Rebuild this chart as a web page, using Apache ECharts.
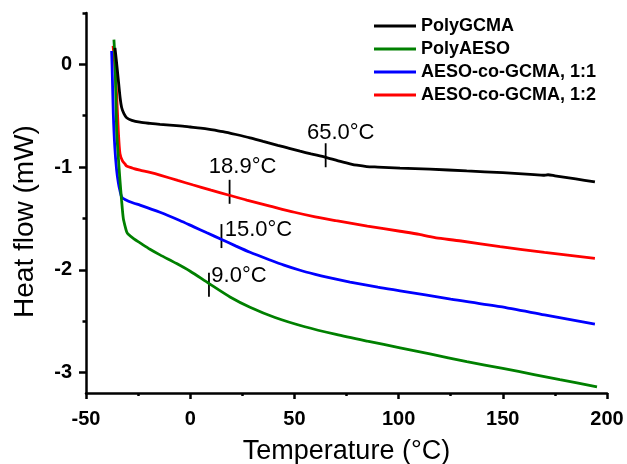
<!DOCTYPE html>
<html>
<head>
<meta charset="utf-8">
<script src="https://cdn.jsdelivr.net/npm/echarts@6/dist/echarts.min.js"></script>
<style>html,body{margin:0;padding:0;background:#fff}#c{width:627px;height:464px}</style>
</head>
<body>
<div id="c"></div>
<script>
const seriesNames = ['PolyGCMA', 'PolyAESO', 'AESO-co-GCMA, 1:1', 'AESO-co-GCMA, 1:2'];
const seriesColors = ['#000000', '#008000', '#0000ff', '#ff0000'];

const polyGCMA = [
  [-36.1,0.16],[-35.5,0.05],[-34.5,-0.15],[-33.6,-0.33],[-32.9,-0.42],[-31.8,-0.48],[-30.5,-0.52],
  [-28,-0.545],[-24.1,-0.563],[-19.3,-0.575],[-14.5,-0.585],[-5,-0.6],[0,-0.61],[5,-0.62],
  [10,-0.635],[15.7,-0.655],[22,-0.683],[28.7,-0.715],[35,-0.75],[42,-0.788],[48,-0.82],[52.7,-0.845],
  [58,-0.872],[65,-0.905],[71,-0.94],[76.7,-0.968],[80,-0.982],[84.7,-0.995],[90,-1.0],[100.7,-1.01],
  [115,-1.02],[132.7,-1.038],[150,-1.055],[165,-1.073],[169.4,-1.08],[171.7,-1.075],[175,-1.085],
  [185,-1.115],[194.2,-1.145]
];
const polyAESO = [
  [-36.6,0.24],[-36.0,0.0],[-35.3,-0.645],[-34.5,-0.9],[-33.7,-1.13],[-32.9,-1.33],[-32.1,-1.5],
  [-31.2,-1.58],[-30.5,-1.63],[-29.7,-1.655],[-27,-1.7],[-24.1,-1.738],[-19.3,-1.8],
  [-14.5,-1.855],[-6.5,-1.94],[0,-2.015],[8.7,-2.13],[19.1,-2.265],[28.7,-2.365],[40.7,-2.465],
  [55,-2.555],[70,-2.63],[85,-2.695],[100.7,-2.76],[115,-2.82],[132.7,-2.895],[150,-2.96],
  [165,-3.02],[177.4,-3.07],[195.2,-3.14]
];
const aesoGcma11 = [
  [-37.7,0.13],[-37.5,0.0],[-36.9,-0.48],[-36.2,-0.8],[-35.3,-1.03],[-34.5,-1.15],[-33.7,-1.23],
  [-32.9,-1.29],[-31.3,-1.315],[-27.3,-1.35],[-24.1,-1.37],[-14.5,-1.44],[-5,-1.52],[1.5,-1.58],
  [8,-1.64],[15.1,-1.705],[22,-1.77],[28.7,-1.83],[38.3,-1.905],[45,-1.955],[52.7,-2.005],[60,-2.045],
  [65,-2.07],[76.7,-2.12],[90,-2.17],[100.7,-2.205],[125,-2.285],[148.7,-2.36],[170,-2.44],[194.2,-2.53]
];
const aesoGcma12 = [
  [-37.0,0.18],[-36.2,0.0],[-35.3,-0.3],[-34.5,-0.645],[-33.7,-0.87],[-32.5,-0.94],[-31.3,-0.97],
  [-30.5,-0.99],[-27,-1.015],[-24.1,-1.03],[-19.3,-1.052],[-14.5,-1.078],[-6,-1.13],[1.5,-1.175],
  [10,-1.225],[18.3,-1.272],[27.1,-1.322],[38.3,-1.38],[50,-1.44],[60,-1.485],[70,-1.522],
  [85,-1.575],[100.7,-1.625],[110,-1.655],[115,-1.678],[118,-1.69],[130,-1.72],[148.7,-1.775],[170,-1.83],
  [194.2,-1.89]
];
const seriesData = [polyGCMA, polyAESO, aesoGcma11, aesoGcma12];

// Glass transition markers
const tgSeries = [0, 3, 2, 1];
const tgTemp = [65.0, 18.9, 15.0, 9.0];
const tgFlow = [-0.885, -1.241, -1.672, -2.146];
const tgLabels = ['65.0°C', '18.9°C', '15.0°C', '9.0°C'];
const tgLabelOffset = [[15, -22], [13, -25], [37, -6], [30, -9]];

const xTicks = [-50, 0, 50, 100, 150, 200];
const yTicks = [-3, -2, -1, 0];
const yMinorTicks = [-2.5, -1.5, -0.5, 0.5];

const FONT = '"Liberation Sans", Arial, sans-serif';

const series = seriesNames.map((name, i) => {
  const marks = [];
  tgSeries.forEach((s, k) => {
    if (s === i) {
      marks.push({
        name: tgLabels[k],
        coord: [tgTemp[k], tgFlow[k]],
        label: { offset: tgLabelOffset[k] }
      });
    }
  });
  return {
    name: name,
    type: 'line',
    data: seriesData[i],
    showSymbol: false,
    symbol: 'none',
    smooth: 0.25,
    lineStyle: { color: seriesColors[i], width: 2.8 },
    itemStyle: { color: seriesColors[i] },
    z: 10 - i,
    markPoint: marks.length ? {
      symbol: 'rect',
      symbolSize: [1.8, 24],
      itemStyle: { color: '#000' },
      label: {
        show: true, position: 'inside', formatter: '{b}',
        color: '#000', fontFamily: FONT, fontSize: 22, align: 'center', verticalAlign: 'middle'
      },
      data: marks
    } : undefined
  };
});

const chart = echarts.init(document.getElementById('c'), null, { renderer: 'canvas' });
chart.setOption({
  animation: false,
  backgroundColor: '#fff',
  grid: { left: 86, right: 20, top: 13, bottom: 71, containLabel: false, outerBoundsMode: 'none' },
  legend: {
    orient: 'vertical', left: 374, top: 17, padding: 0,
    itemWidth: 42, itemHeight: 3, itemGap: 5, icon: 'rect',
    textStyle: { fontFamily: FONT, fontWeight: 'bold', fontSize: 18, color: '#000' },
    data: seriesNames.map((n, i) => ({ name: n, itemStyle: { color: seriesColors[i] } }))
  },
  graphic: [{
    type: 'text', x: 39, y: 221.5, rotation: Math.PI / 2,
    style: { text: 'Heat flow (mW)', font: '28px "Liberation Sans", Arial, sans-serif',
      fill: '#000', align: 'center', verticalAlign: 'bottom' }
  }],
  xAxis: {
    type: 'value', min: -50, max: 200, interval: 50,
    name: 'Temperature (°C)', nameLocation: 'middle', nameGap: 45,
    nameTextStyle: { fontFamily: FONT, fontSize: 27, color: '#000' },
    axisLine: { show: true, onZero: false, lineStyle: { color: '#000', width: 2.5 } },
    axisTick: { show: true, inside: false, length: 6, lineStyle: { color: '#000', width: 2.5 } },
    minorTick: { show: true, splitNumber: 2, length: 3, lineStyle: { color: '#000', width: 2.5 } },
    axisLabel: { fontFamily: FONT, fontWeight: 'bold', fontSize: 20, color: '#000', margin: 16,
      formatter: v => xTicks.includes(v) ? String(v) : '' },
    splitLine: { show: false }
  },
  yAxis: [{
    type: 'value', min: -3.2, max: 0.5, position: 'left',
    axisLine: { show: true, onZero: false, lineStyle: { color: '#000', width: 2.5 } },
    axisTick: { show: true, inside: false, length: 7, customValues: yTicks, lineStyle: { color: '#000', width: 2.5 } },
    axisLabel: { fontFamily: FONT, fontWeight: 'bold', fontSize: 20, color: '#000', margin: 14, customValues: yTicks },
    splitLine: { show: false }
  }, {
    type: 'value', min: -3.2, max: 0.5, position: 'left', offset: 0,
    axisLine: { show: false, onZero: false },
    axisTick: { show: true, inside: false, length: 3.5, customValues: yMinorTicks, lineStyle: { color: '#000', width: 2.5 } },
    axisLabel: { show: false },
    splitLine: { show: false }
  }],
  series: series
});
</script>
</body>
</html>
